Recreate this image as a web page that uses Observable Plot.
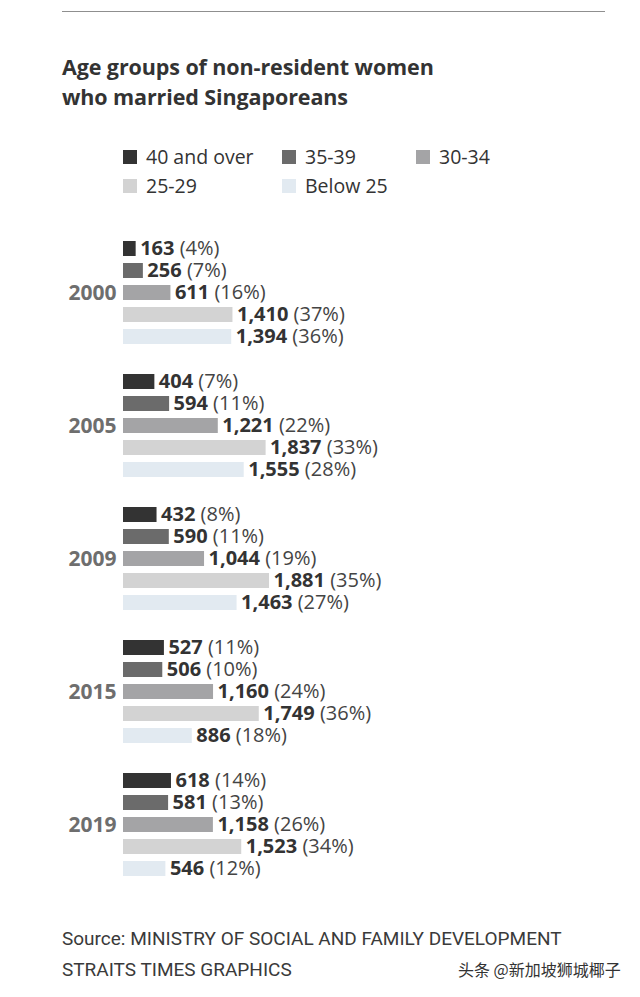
<!DOCTYPE html>
<html><head><meta charset="utf-8">
<script src="https://cdn.jsdelivr.net/npm/d3@7"></script>
<script src="https://cdn.jsdelivr.net/npm/@observablehq/plot@0.6"></script>
<style>
body{margin:0;background:#fff;font-family:"Open Sans",sans-serif;width:640px;height:997px;position:relative;overflow:hidden;color:#333}
#rule{position:absolute;left:62px;top:11px;width:543px;height:0;border-top:1.5px solid #8f8f8f}
#title{position:absolute;left:62px;top:52px;font-weight:700;font-size:21.5px;line-height:30px;color:#333;margin:0;letter-spacing:-0.1px}
#legend{position:absolute;left:123px;top:142px;display:grid;grid-template-columns:159px 134px auto}
.item{display:flex;align-items:center;height:29px;font-size:19.5px;color:#333}
.sw{width:14px;height:14px;margin-right:9px}
#chart{position:absolute;left:0;top:225px}
#source{position:absolute;left:62px;top:923px;font-size:19px;line-height:31px;color:#3a3a3a;font-family:Roboto,sans-serif}
#mark{position:absolute;left:458px;top:954px;font-size:16px;line-height:31px;color:#333;font-family:"Noto Sans CJK SC",sans-serif}
</style></head>
<body>
<div id="rule"></div>
<h1 id="title">Age groups of non-resident women<br>who married Singaporeans</h1>
<div id="legend"></div>
<div id="chart"></div>
<div id="source">Source: MINISTRY OF SOCIAL AND FAMILY DEVELOPMENT<br>STRAITS TIMES GRAPHICS</div>
<div id="mark">头条 @新加坡狮城椰子</div>
<script>
const years = ["2000", "2005", "2009", "2015", "2019"];
const ages = ["40 and over", "35-39", "30-34", "25-29", "Below 25"];
const colors = ["#333333", "#6b6b6b", "#a4a4a6", "#d3d3d3", "#e2eaf1"];

const over40   = [163, 404, 432, 527, 618];
const age35_39 = [256, 594, 590, 506, 581];
const age30_34 = [611, 1221, 1044, 1160, 1158];
const age25_29 = [1410, 1837, 1881, 1749, 1523];
const below25  = [1394, 1555, 1463, 886, 546];

const pctOver40   = [4, 7, 8, 11, 14];
const pct35_39    = [7, 11, 11, 10, 13];
const pct30_34    = [16, 22, 19, 24, 26];
const pct25_29    = [37, 33, 35, 36, 34];
const pctBelow25  = [36, 28, 27, 18, 12];

const series = [over40, age35_39, age30_34, age25_29, below25];
const pcts = [pctOver40, pct35_39, pct30_34, pct25_29, pctBelow25];

const rows = [];
years.forEach((year, i) => {
  ages.forEach((age, j) => {
    rows.push({year, age, value: series[j][i], pct: pcts[j][i]});
  });
});

// legend
const legend = document.getElementById("legend");
ages.forEach((a, j) => {
  const it = document.createElement("div");
  it.className = "item";
  it.innerHTML = `<span class="sw" style="background:${colors[j]}"></span><span>${a}</span>`;
  legend.appendChild(it);
});

const fmt = d3.format(",");
const chart = Plot.plot({
  width: 640,
  height: 667,
  marginTop: 10,
  marginBottom: 10,
  marginLeft: 123,
  marginRight: 0,
  style: {fontFamily: "'Open Sans', sans-serif", background: "transparent"},
  x: {domain: [0, 6660], axis: null},
  y: {domain: ages, axis: null, paddingInner: 0.3, paddingOuter: 0.15},
  fy: {domain: years, paddingInner: 0.154, paddingOuter: 0, label: null},
  color: {domain: ages, range: colors},
  marks: [
    Plot.barX(rows, {x: "value", y: "age", fy: "year", fill: "age"}),
    Plot.text(rows, {x: "value", y: "age", fy: "year", text: d => `${fmt(d.value)} (${d.pct}%)`,
      dx: 4, textAnchor: "start", fontSize: 20, fill: "#333"}),
    Plot.axisFy({anchor: "left", tickSize: 0, tickPadding: 7, label: null, fontSize: 21, fontWeight: "bold", fill: "#6e6e6e"})
  ]
});
document.getElementById("chart").appendChild(chart);

// bold the counts, regular for the shares
chart.querySelectorAll('g[aria-label="text"] text').forEach(t => {
  const s = t.textContent;
  const k = s.indexOf(" ");
  t.textContent = "";
  const a = document.createElementNS("http://www.w3.org/2000/svg", "tspan");
  a.setAttribute("font-weight", "bold");
  a.setAttribute("fill", "#333");
  a.textContent = s.slice(0, k);
  const b = document.createElementNS("http://www.w3.org/2000/svg", "tspan");
  b.setAttribute("fill", "#444");
  b.textContent = s.slice(k);
  t.appendChild(a); t.appendChild(b);
});
</script>
</body></html>
